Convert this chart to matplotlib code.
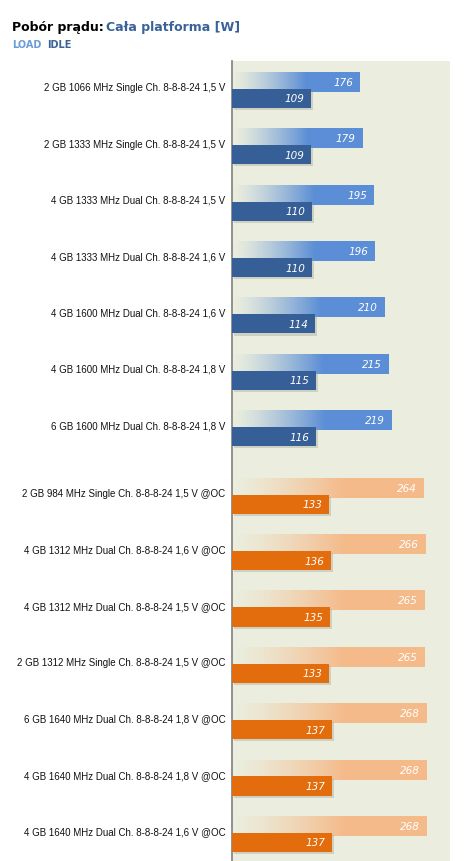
#!/usr/bin/env python3
"""Horizontal bars: platform power draw, load vs idle, per memory config."""

import matplotlib
matplotlib.use("Agg")
import matplotlib.pyplot as plt
import matplotlib.patheffects as pe
import numpy as np
from matplotlib.colors import to_rgb

labels = [
    "2 GB 1066 MHz Single Ch. 8-8-8-24 1,5 V",
    "2 GB 1333 MHz Single Ch. 8-8-8-24 1,5 V",
    "4 GB 1333 MHz Dual Ch. 8-8-8-24 1,5 V",
    "4 GB 1333 MHz Dual Ch. 8-8-8-24 1,6 V",
    "4 GB 1600 MHz Dual Ch. 8-8-8-24 1,6 V",
    "4 GB 1600 MHz Dual Ch. 8-8-8-24 1,8 V",
    "6 GB 1600 MHz Dual Ch. 8-8-8-24 1,8 V",
    "2 GB 984 MHz Single Ch. 8-8-8-24 1,5 V @OC",
    "4 GB 1312 MHz Dual Ch. 8-8-8-24 1,6 V @OC",
    "4 GB 1312 MHz Dual Ch. 8-8-8-24 1,5 V @OC",
    "2 GB 1312 MHz Single Ch. 8-8-8-24 1,5 V @OC",
    "6 GB 1640 MHz Dual Ch. 8-8-8-24 1,8 V @OC",
    "4 GB 1640 MHz Dual Ch. 8-8-8-24 1,8 V @OC",
    "4 GB 1640 MHz Dual Ch. 8-8-8-24 1,6 V @OC",
]
load = [176, 179, 195, 196, 210, 215, 219, 264, 266, 265, 265, 268, 268, 268]
idle = [109, 109, 110, 110, 114, 115, 116, 133, 136, 135, 133, 137, 137, 137]
overclocked = [False] * 7 + [True] * 7

BG = "#EBEEDE"
LOAD_BLUE, IDLE_BLUE = "#5B8ED6", "#365F97"
LOAD_ORANGE, IDLE_ORANGE = "#F5BA8A", "#E36C0D"

fig = plt.figure(figsize=(4.67, 8.62), dpi=100)
ax = fig.add_axes([232 / 467, 0, 218 / 467, 1 - 62 / 862])
ax.set_facecolor(BG)

ys = np.array([i + (0.2 if oc else 0) for i, oc in enumerate(overclocked)])

shadow = [pe.SimplePatchShadow(offset=(1.5, -1.5), shadow_rgbFace="#9a9a90", alpha=0.35), pe.Normal()]

ramp = np.clip(np.linspace(0, 1, 256) / 0.58, 0, 1) ** 1.3
for y, lv, iv, oc, lab in zip(ys, load, idle, overclocked, labels):
    lc = LOAD_ORANGE if oc else LOAD_BLUE
    ic = IDLE_ORANGE if oc else IDLE_BLUE
    yl, yi = y - 0.142, y + 0.15
    # load bar with fading gradient
    bar = ax.barh(yl, lv, height=0.355, color="none", zorder=2)[0]
    grad = np.zeros((1, 256, 4))
    grad[..., :3] = to_rgb(lc)
    grad[..., 3] = ramp
    im = ax.imshow(grad, extent=(0, lv, yl + 0.1775, yl - 0.1775),
                   aspect="auto", interpolation="bilinear", zorder=3)
    im.set_clip_path(bar)
    ax.text(lv - 9, yl, f"{lv}", color="white", fontstyle="italic",
            fontsize=7.5, ha="right", va="center", zorder=5)
    # idle bar
    ib = ax.barh(yi, iv, height=0.34, color=ic, zorder=4)[0]
    ib.set_path_effects(shadow)
    ax.text(iv - 9, yi, f"{iv}", color="white", fontstyle="italic",
            fontsize=7.5, ha="right", va="center", zorder=5)
    ax.text(-9, y - 0.05, lab, ha="right", va="center", fontsize=7,
            family="Liberation Sans", color="#111111")
ax.set_xlim(0, 300)
ax.set_ylim(13.68, -0.514)

for s in ["top", "right", "bottom"]:
    ax.spines[s].set_visible(False)
ax.spines["left"].set_color("#808080")
ax.spines["left"].set_linewidth(1.2)
ax.set_xticks([])
ax.set_yticks([])

fig.text(12 / 467, 1 - 28 / 862, "Pobór prądu:", fontsize=9, fontweight="bold",
         color="black", va="center")
fig.text(106 / 467, 1 - 28 / 862, "Cała platforma [W]", fontsize=9,
         fontweight="bold", color="#3A6299", va="center")
fig.text(12 / 467, 1 - 45 / 862, "LOAD", fontsize=7, fontweight="bold",
         color="#6C9BDA", va="center")
fig.text(47 / 467, 1 - 45 / 862, "IDLE", fontsize=7, fontweight="bold",
         color="#3A6299", va="center")

fig.savefig("out.png", dpi=100)
